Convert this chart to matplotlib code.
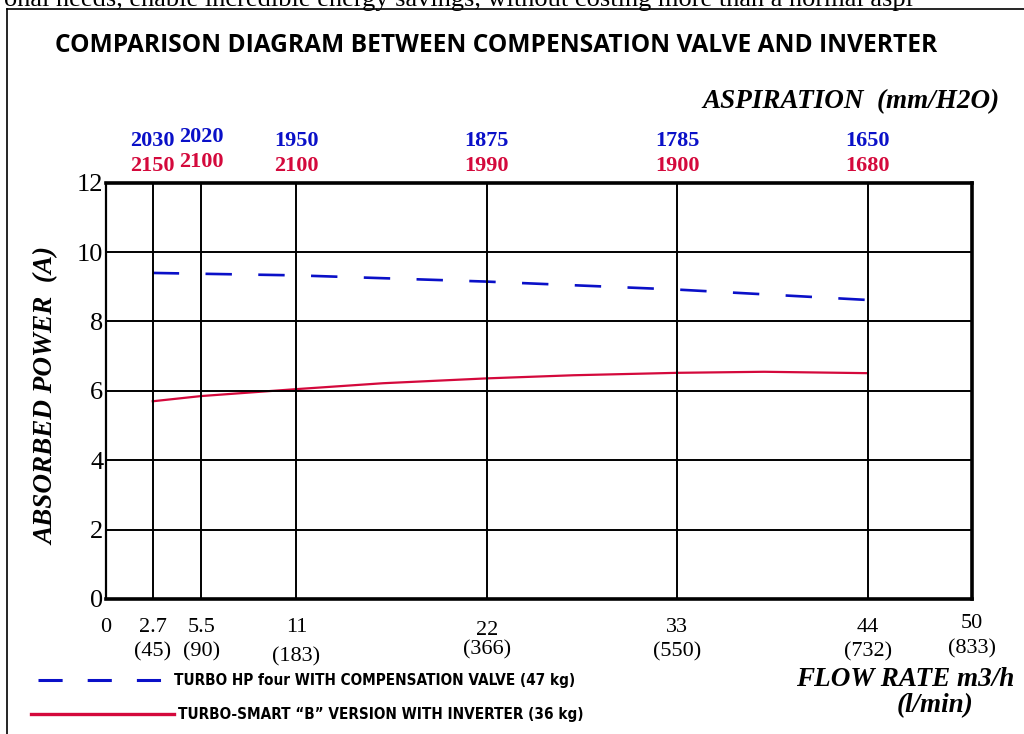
import matplotlib
matplotlib.use("Agg")
import matplotlib.pyplot as plt
from matplotlib.lines import Line2D

# flow rate positions (m3/h) and their l/min values
flow = [2.7, 5.5, 11, 22, 33, 44]
flow_lmin = ["(45)", "(90)", "(183)", "(366)", "(550)", "(732)"]

# aspiration (mm/H2O) for each flow point
asp_blue = ["2030", "2020", "1950", "1875", "1785", "1650"]
asp_red = ["2150", "2100", "2100", "1990", "1900", "1680"]

# absorbed power (A)
hp_x = [2.7, 11, 22, 33, 44]
hp_y = [9.40, 9.33, 9.15, 8.92, 8.62]
smart_x = [2.7, 5.5, 11, 16, 22, 27, 33, 38, 44]
smart_y = [5.70, 5.85, 6.05, 6.22, 6.36, 6.45, 6.52, 6.55, 6.51]

yticks = [0, 2, 4, 6, 8, 10, 12]

BLUE = "#0a10c8"
RED = "#d4093c"
serif = "Liberation Serif"

fig = plt.figure(figsize=(10.24, 7.34), dpi=100)
ax = fig.add_axes([0.1035, 0.184, 0.8455, 0.567])

ax.plot(hp_x, hp_y, color=BLUE, lw=1.9, dashes=(10, 10))
ax.plot(smart_x, smart_y, color=RED, lw=1.6)

ax.set_xlim(0, 50)
ax.set_ylim(0, 12)
ax.set_yticks(yticks)
ax.set_yticklabels([str(v) for v in yticks], family=serif, fontsize=19)
ax.set_xticks([])
ax.tick_params(axis="y", length=0, pad=2)
for v in yticks[1:-1]:
    ax.axhline(v, color="black", lw=1.4)
for v in flow:
    ax.axvline(v, color="black", lw=1.4)
for s in ["top", "bottom", "right"]:
    ax.spines[s].set_linewidth(2.6)
ax.spines["left"].set_linewidth(1.6)

# flow rate labels under the axis (a few sit a little off the row, as drawn)
row1 = {22: -0.075}
row2 = {11: -0.14, 22: -0.123}
xt = ax.get_xaxis_transform()
ax.text(0, -0.068, "0", transform=xt, ha="center", va="center", family=serif, fontsize=16)
ax.text(50, -0.058, "50", transform=xt, ha="center", va="center", family=serif, fontsize=16)
ax.text(50, -0.12, "(833)", transform=xt, ha="center", va="center", family=serif, fontsize=16)
for x, l in zip(flow, flow_lmin):
    ax.text(x, row1.get(x, -0.068), f"{x:g}", transform=xt, ha="center", va="center",
            family=serif, fontsize=16)
    ax.text(x, row2.get(x, -0.128), l, transform=xt, ha="center", va="center",
            family=serif, fontsize=16)

# aspiration labels above the axis
for x, b, r in zip(flow, asp_blue, asp_red):
    dy = 0.01 if x == 5.5 else 0
    ax.text(x, 1.1 + dy, b, transform=xt, ha="center", va="center", family=serif,
            fontsize=16, fontweight="bold", color=BLUE)
    ax.text(x, 1.04 + dy, r, transform=xt, ha="center", va="center", family=serif,
            fontsize=16, fontweight="bold", color=RED)

fig.text(0.054, 0.938, "COMPARISON DIAGRAM BETWEEN COMPENSATION VALVE AND INVERTER",
         family="Open Sans", fontweight="bold", fontsize=17.65, va="center", ha="left")
fig.text(0.976, 0.861, "ASPIRATION  (mm/H2O)", family=serif, style="italic",
         fontweight="bold", fontsize=19.5, ha="right", va="center")
fig.text(0.046, 0.46, "ABSORBED POWER  (A)", family=serif, style="italic",
         fontweight="bold", fontsize=19.5, rotation=90, ha="center", va="center")
fig.text(0.991, 0.074, "FLOW RATE m3/h", family=serif, style="italic",
         fontweight="bold", fontsize=19.5, ha="right", va="center")
fig.text(0.913, 0.038, "(l/min)", family=serif, style="italic",
         fontweight="bold", fontsize=19.5, ha="center", va="center")

# cut-off line of page text and page border
fig.text(0.004, 1.0, "onal needs, enable incredible energy savings, without costing more than a normal aspi",
         family=serif, fontsize=19, ha="left", va="center")
fig.add_artist(Line2D([0.007, 0.007], [0.0, 0.988], transform=fig.transFigure, color="black", lw=1.2))
fig.add_artist(Line2D([0.007, 1.0], [0.988, 0.988], transform=fig.transFigure, color="black", lw=1.2))

leg_font = {"family": "DejaVu Sans", "stretch": "condensed", "weight": "bold", "size": 11}
leg1 = fig.legend([Line2D([], [], color=BLUE, lw=2.2, dashes=(7.9, 8.2))],
                  ["TURBO HP four WITH COMPENSATION VALVE (47 kg)"],
                  loc="center left", bbox_to_anchor=(0.0235, 0.0725), frameon=False,
                  handlelength=8.3, handletextpad=0.6, prop=leg_font)
leg2 = fig.legend([Line2D([], [], color=RED, lw=2.4)],
                  ["TURBO-SMART \u201cB\u201d VERSION WITH INVERTER (36 kg)"],
                  loc="center left", bbox_to_anchor=(0.0165, 0.026), frameon=False,
                  handlelength=9.4, handletextpad=0.25, prop=leg_font)

fig.savefig("out.png", dpi=100)
